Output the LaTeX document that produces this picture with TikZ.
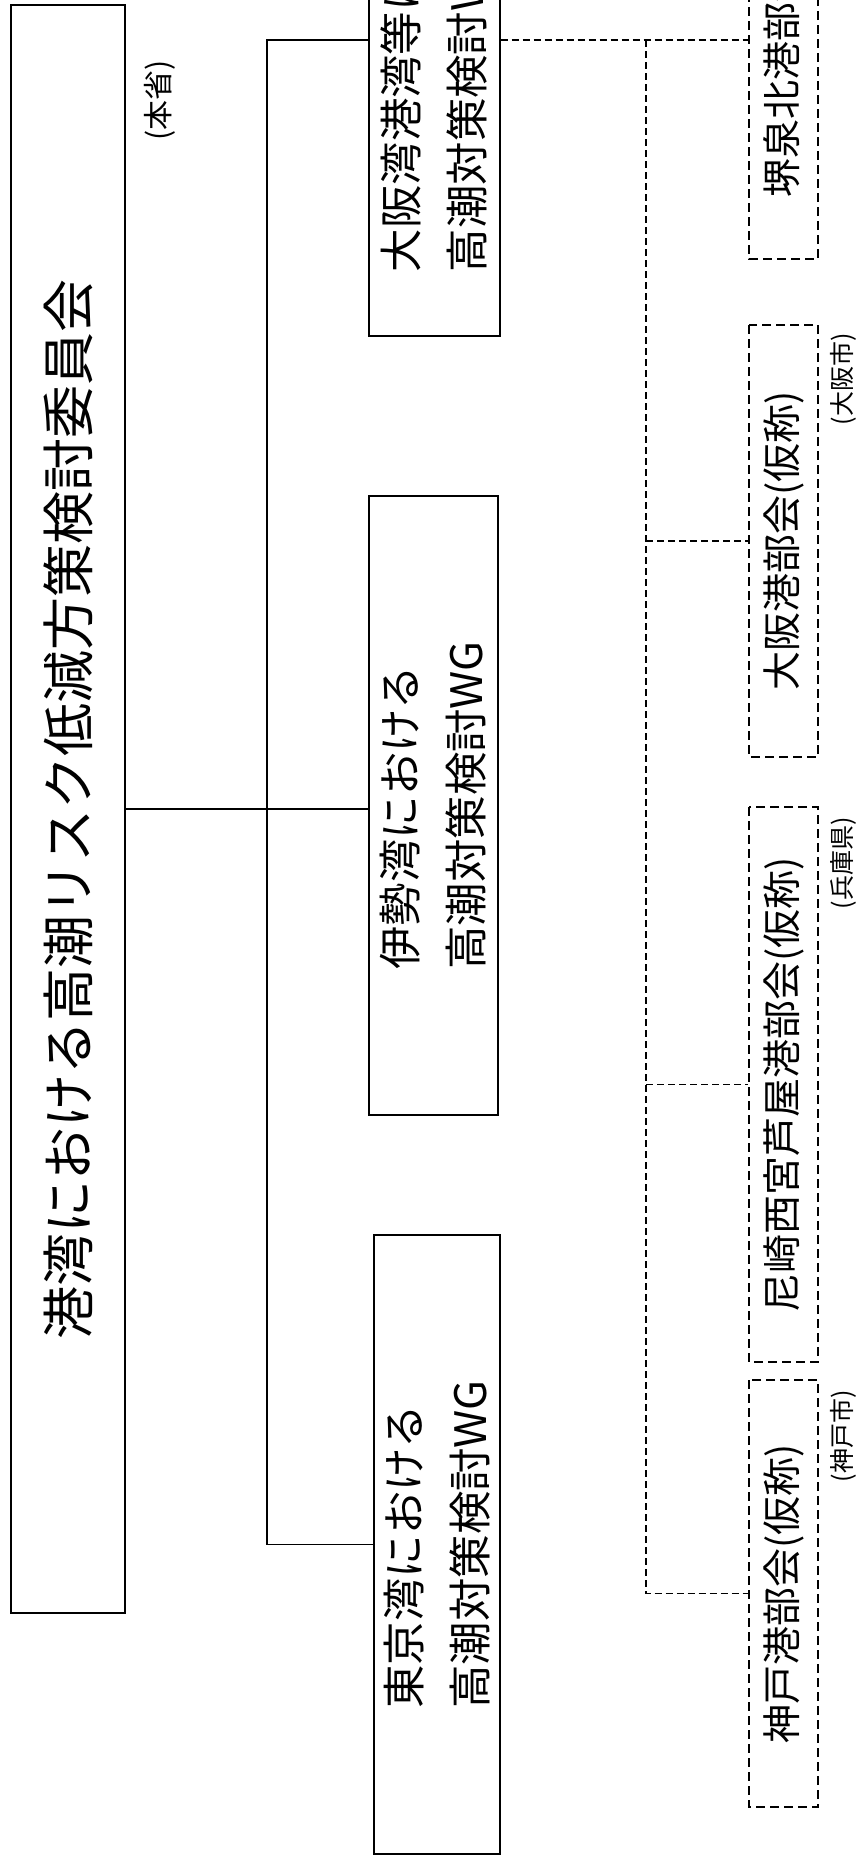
\documentclass[tikz,border=0pt]{standalone}
\usepackage{fontspec}
\setmainfont{Noto Sans CJK JP}
\usetikzlibrary{positioning}

\begin{document}
\begin{tikzpicture}
[x=1pt,y=-1pt,
 solidbox/.style={rectangle,draw,line width=1.2pt,rotate=90,inner sep=0pt},
 wgbox/.style={solidbox,minimum width=619pt,minimum height=129pt,align=left,font=\fontsize{43.4}{66}\selectfont},
 dashbox/.style={rectangle,draw,line width=1.2pt,dash pattern=on 9pt off 5pt,rotate=90,inner sep=0pt,minimum height=69pt,font=\fontsize{39}{45}\selectfont},
 note/.style={rotate=90,inner sep=0pt,anchor=east,font=\fontsize{25}{30}\selectfont},
 link/.style={line width=1.1pt},
 sublink/.style={line width=1.1pt,dash pattern=on 7pt off 4pt}]
\useasboundingbox (0,0) rectangle (860,1856);
\clip (0,0) rectangle (860,1856);
% committee
\node[solidbox,minimum width=1608pt,minimum height=114pt,font=\fontsize{53}{60}\selectfont] (committee) at (68,809) {港湾における高潮リスク低減方策検討委員会};
\node[note,anchor=center,font=\fontsize{30}{36}\selectfont] (honsho) at (160,100) {(本省)};
% working groups
\node[wgbox,minimum width=562pt,minimum height=131pt] (osakawg) at (434.5,55) {大阪湾港湾等における\\高潮対策検討WG};
\node[note,anchor=west,font=\fontsize{30}{36}\selectfont] (kinki) at (534,3) {(近畿地方整備局)};
\node[wgbox] (isewg) at (433.5,805.5) {伊勢湾における\\高潮対策検討WG};
\node[wgbox,minimum height=126pt] (tokyowg) at (437,1544.5) {東京湾における\\高潮対策検討WG};
% port sections
\node[dashbox,minimum width=462pt] (sakai) at (783.5,28) {堺泉北港部会(仮称)};
\node[dashbox,minimum width=432pt] (osakaport) at (783.5,541) {大阪港部会(仮称)};
\node[note] (osakacity) at (843,333) {(大阪市)};
\node[dashbox,minimum width=555pt] (amagasaki) at (783.5,1084.5) {尼崎西宮芦屋港部会(仮称)};
\node[note] (hyogo) at (843,817) {(兵庫県)};
\node[dashbox,minimum width=427pt] (kobe) at (783.5,1593.5) {神戸港部会(仮称)};
\node[note] (kobecity) at (843,1390) {(神戸市)};
% connectors
\coordinate (wgbus) at (267,40);
\coordinate (portbus) at (646,40);
\draw[link] (committee.south) -- (committee.south -| isewg.north);
\draw[link] (osakawg.north |- wgbus) -- (wgbus) -- (wgbus |- tokyowg.north) -- (tokyowg.north);
\draw[sublink] (osakawg.south |- portbus) -- (portbus -| sakai.north);
\draw[sublink] (portbus) -- (portbus |- kobe.north) -- (kobe.north);
\draw[sublink] (portbus |- osakaport.north) -- (osakaport.north);
\draw[sublink] (portbus |- amagasaki.north) -- (amagasaki.north);
\end{tikzpicture}
\end{document}
